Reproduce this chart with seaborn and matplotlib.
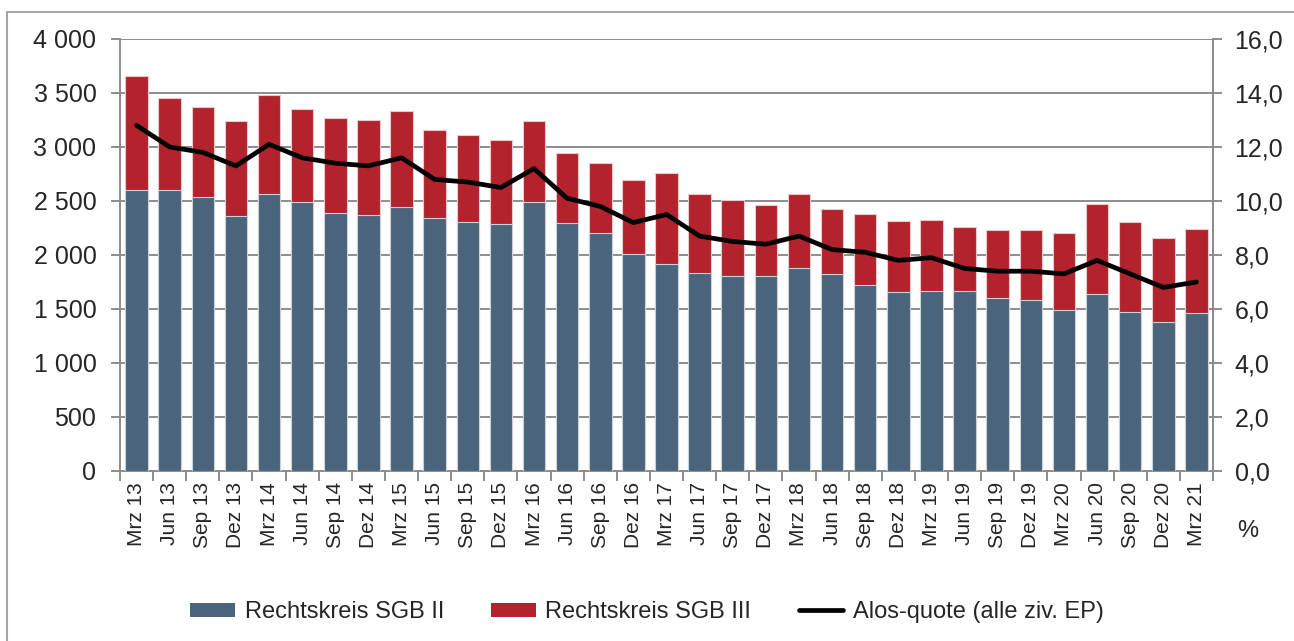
import numpy as np
import pandas as pd
import matplotlib
matplotlib.use('Agg')
import matplotlib.pyplot as plt
import seaborn as sns
from matplotlib.patches import Patch
from matplotlib.lines import Line2D
from matplotlib.ticker import FuncFormatter

# quarters
quarters = ['Mrz 13', 'Jun 13', 'Sep 13', 'Dez 13',
            'Mrz 14', 'Jun 14', 'Sep 14', 'Dez 14',
            'Mrz 15', 'Jun 15', 'Sep 15', 'Dez 15',
            'Mrz 16', 'Jun 16', 'Sep 16', 'Dez 16',
            'Mrz 17', 'Jun 17', 'Sep 17', 'Dez 17',
            'Mrz 18', 'Jun 18', 'Sep 18', 'Dez 18',
            'Mrz 19', 'Jun 19', 'Sep 19', 'Dez 19',
            'Mrz 20', 'Jun 20', 'Sep 20', 'Dez 20',
            'Mrz 21']

# Rechtskreis SGB II (thousands)
sgb2 = [2605, 2598, 2533, 2361, 2568, 2487, 2389, 2370, 2447, 2343, 2305, 2287,
        2487, 2296, 2204, 2009, 1917, 1833, 1808, 1802, 1880, 1824, 1723, 1657,
        1666, 1668, 1602, 1586, 1491, 1639, 1469, 1382, 1463]

# Rechtskreis SGB III (thousands)
sgb3 = [1049, 856, 837, 880, 916, 865, 882, 883, 883, 814, 809, 778,
        756, 648, 651, 685, 845, 728, 701, 664, 688, 602, 660, 660,
        661, 588, 629, 645, 709, 830, 839, 775, 777]

# Alos-quote in %
quote = [12.8, 12.0, 11.8, 11.3, 12.1, 11.6, 11.4, 11.3, 11.6, 10.8, 10.7, 10.5,
         11.2, 10.1, 9.8, 9.2, 9.5, 8.7, 8.5, 8.4, 8.7, 8.2, 8.1, 7.8,
         7.9, 7.5, 7.4, 7.4, 7.3, 7.8, 7.3, 6.8, 7.0]

df = pd.DataFrame({'Quartal': quarters, 'SGB II': sgb2, 'SGB III': sgb3, 'Quote': quote})
df['Gesamt'] = df['SGB II'] + df['SGB III']

blue = '#4a657b'
red = '#b3232d'
grey = '#8c8c8c'

sns.set_style('white')
plt.rcParams['font.family'] = ['Liberation Sans', 'DejaVu Sans']

fig = plt.figure(figsize=(12.94, 6.41), dpi=100)
ax = fig.add_axes([120 / 1294, 1 - 471 / 641, 1093 / 1294, 432 / 641])

# stacked bars: total in red, SGB II drawn over it
sns.barplot(data=df, x='Quartal', y='Gesamt', color=red, saturation=1, width=0.68,
            edgecolor='#e8c8cb', linewidth=0.8, ax=ax, zorder=2)
sns.barplot(data=df, x='Quartal', y='SGB II', color=blue, saturation=1, width=0.68,
            edgecolor='#c9d0d6', linewidth=0.8, ax=ax, zorder=3)

ax.set_xlim(-0.5, len(quarters) - 0.5)
ax.set_ylim(0, 4000)
ax.set_yticks(range(0, 4001, 500))
ax.yaxis.set_major_formatter(FuncFormatter(lambda v, p: f'{int(v):,}'.replace(',', ' ')))
ax.set_xlabel('')
ax.set_ylabel('')
ax.grid(axis='y', color=grey, linewidth=1.4, zorder=0)
ax.set_axisbelow(True)

ax.spines['top'].set_visible(False)
for s in ['left', 'bottom', 'right']:
    ax.spines[s].set_color(grey)
    ax.spines[s].set_linewidth(1.4)

ax.tick_params(axis='y', direction='out', length=6.5, width=1.4, color=grey,
               labelsize=18, pad=10.5, left=True)
ax.tick_params(axis='x', which='major', length=0, labelsize=15, pad=8,
               labelrotation=90)
ax.set_xticks(np.arange(-0.5, len(quarters)), minor=True)
ax.tick_params(axis='x', which='minor', direction='out', length=7, width=1.4,
               color=grey, bottom=True)
for lab in ax.get_xticklabels():
    lab.set_verticalalignment('top')

# Alos-quote on right axis
ax2 = ax.twinx()
sns.lineplot(x=np.arange(len(quarters)), y=df['Quote'], color='black',
             linewidth=3.4, ax=ax2, zorder=5, solid_capstyle='round')
ax2.set_ylim(0, 16)
ax2.set_yticks(np.arange(0, 16.1, 2))
ax2.yaxis.set_major_formatter(FuncFormatter(lambda v, p: f'{v:.1f}'.replace('.', ',')))
ax2.set_ylabel('')
for s in ['top', 'left', 'bottom']:
    ax2.spines[s].set_visible(False)
ax2.spines['right'].set_color(grey)
ax2.spines['right'].set_linewidth(1.4)
ax2.tick_params(axis='y', direction='out', length=6.5, width=1.4, color=grey,
                labelsize=18, pad=9, right=True)
ax2.grid(False)

fig.text(1248 / 1294, 1 - 531 / 641, '%', fontsize=17, ha='center', va='center')

handles = [Patch(facecolor=blue, edgecolor='none'),
           Patch(facecolor=red, edgecolor='none'),
           Line2D([0], [0], color='black', linewidth=3.4, solid_capstyle='round')]
labels = ['Rechtskreis SGB II', 'Rechtskreis SGB III', 'Alos-quote (alle ziv. EP)']
fig.legend(handles, labels, loc='center', bbox_to_anchor=(0.5, 1 - 612 / 641),
           ncol=3, frameon=False, handlelength=1.9, handleheight=0.55,
           handletextpad=0.4, columnspacing=2.0,
           prop={'family': ['Liberation Sans'], 'size': 17})

# light border like the source frame
fig.add_artist(Line2D([7 / 1294, 7 / 1294], [0, 1 - 12 / 641], transform=fig.transFigure,
                      color='#a6a6a6', linewidth=1.5))
fig.add_artist(Line2D([7 / 1294, 1], [1 - 12 / 641, 1 - 12 / 641], transform=fig.transFigure,
                      color='#a6a6a6', linewidth=1.5))

fig.savefig('out.png', dpi=100)
